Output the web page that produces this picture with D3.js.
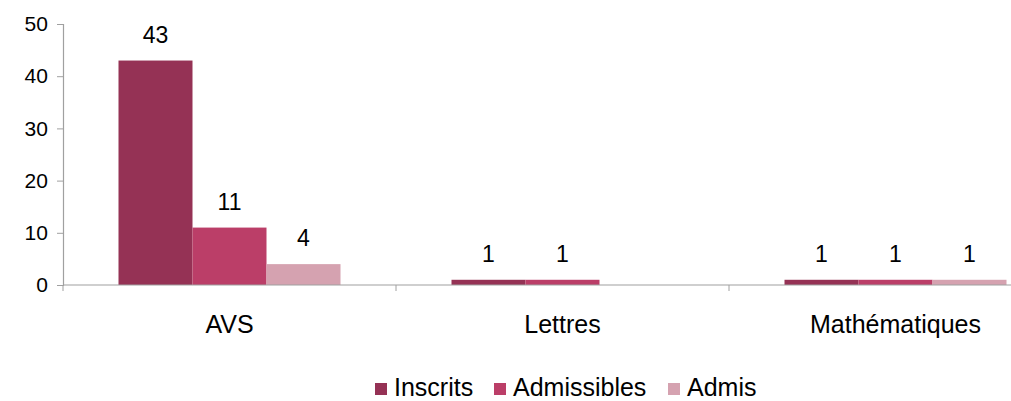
<!DOCTYPE html>
<html><head><meta charset="utf-8">
<script src="https://cdn.jsdelivr.net/npm/d3@7"></script>
<style>body{margin:0;background:#fff}svg{display:block}</style>
</head><body>
<script>
const categories = ["AVS", "Lettres", "Mathématiques"];
const seriesNames = ["Inscrits", "Admissibles", "Admis"];
const inscrits = [43, 1, 1];
const admissibles = [11, 1, 1];
const admis = [4, 0, 1];
const yTicks = [0, 10, 20, 30, 40, 50];
const colors = ["#953255", "#BB3E68", "#D5A2B0"];

const seriesValues = [inscrits, admissibles, admis];
const W = 1011, H = 401;
const svg = d3.select("body").append("svg").attr("width", W).attr("height", H);
const font = "'Liberation Sans', Arial, sans-serif";

const x0 = d3.scaleBand().domain(categories).range([63, 1062]).paddingInner(0).paddingOuter(0);
const x1 = d3.scaleBand().domain(seriesNames).range([0, x0.bandwidth()]).paddingInner(0).paddingOuter(0.75);
const y = d3.scaleLinear().domain([0, 50]).range([285, 24]);

// y axis
const yAxis = svg.append("g").attr("transform", "translate(63,0)")
  .call(d3.axisLeft(y).tickValues(yTicks).tickSize(6).tickPadding(8));
yAxis.select(".domain").attr("stroke", "#a0a0a0").attr("stroke-width", 1.2);
yAxis.selectAll(".tick line").attr("stroke", "#a0a0a0");
yAxis.selectAll(".tick text").attr("font-family", font).attr("font-size", 21).attr("fill", "#000").attr("dx", "-0.05em");

// bars
seriesNames.forEach((s, si) => {
  const vals = seriesValues[si];
  svg.append("g").selectAll("rect").data(categories).join("rect")
    .attr("x", c => x0(c) + x1(s))
    .attr("y", (c, i) => y(vals[i]))
    .attr("width", x1.bandwidth())
    .attr("height", (c, i) => y(0) - y(vals[i]))
    .attr("fill", colors[si]);
  svg.append("g").selectAll("text").data(categories.filter((c, i) => vals[i] > 0)).join("text")
    .attr("x", c => x0(c) + x1(s) + x1.bandwidth() / 2)
    .attr("y", c => y(vals[categories.indexOf(c)]) - 18)
    .attr("text-anchor", "middle")
    .attr("font-family", font).attr("font-size", 23).attr("fill", "#000")
    .text(c => vals[categories.indexOf(c)]);
});

// x axis
const xAxisG = svg.append("g").attr("transform", "translate(0,285)");
xAxisG.append("line").attr("x1", 63).attr("x2", W).attr("y1", 0).attr("y2", 0)
  .attr("stroke", "#a0a0a0").attr("stroke-width", 1.2);
const tickPositions = categories.map(c => x0(c)).concat([x0.range()[1]]);
xAxisG.selectAll("line.t").data(tickPositions).join("line").attr("class", "t")
  .attr("x1", d => d).attr("x2", d => d).attr("y1", 0).attr("y2", 6).attr("stroke", "#a0a0a0");
xAxisG.selectAll("text").data(categories).join("text")
  .attr("x", c => x0(c) + x0.bandwidth() / 2).attr("y", 48)
  .attr("text-anchor", "middle").attr("font-family", font).attr("font-size", 25).attr("fill", "#000")
  .text(c => c);

// legend
const legendX = [375, 494, 668];
const lg = svg.append("g");
seriesNames.forEach((s, i) => {
  lg.append("rect").attr("x", legendX[i]).attr("y", 383).attr("width", 12).attr("height", 12).attr("fill", colors[i]);
  lg.append("text").attr("x", legendX[i] + 19).attr("y", 396).attr("font-family", font).attr("font-size", 25).attr("fill", "#000").text(s);
});
</script>
</body></html>
